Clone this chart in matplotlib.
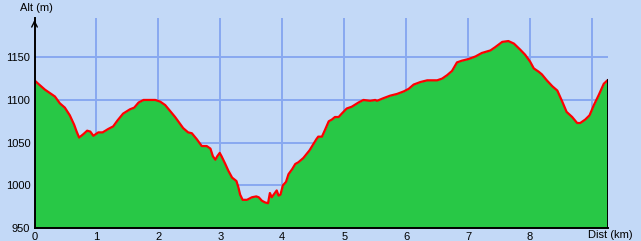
import matplotlib.pyplot as plt

# perfil: distancia (km) y altitud (m)
dist = [0.00, 0.06, 0.17, 0.25, 0.33, 0.41, 0.49, 0.57, 0.64, 0.68, 0.72, 0.79, 0.85, 0.90, 0.95,
        1.03, 1.10, 1.19, 1.27, 1.34, 1.43, 1.54, 1.61, 1.68, 1.76, 1.89, 1.95, 2.03, 2.11, 2.19,
        2.27, 2.34, 2.40, 2.48, 2.54, 2.62, 2.70, 2.78, 2.84, 2.88, 2.92, 2.95, 2.99, 3.02, 3.08,
        3.13, 3.19, 3.26, 3.29, 3.32, 3.36, 3.43, 3.51, 3.58, 3.62, 3.67, 3.72, 3.77, 3.80, 3.83,
        3.86, 3.91, 3.94, 3.97, 4.01, 4.06, 4.10, 4.16, 4.21, 4.26, 4.34, 4.44, 4.55, 4.58, 4.64,
        4.69, 4.75, 4.80, 4.85, 4.91, 4.96, 5.04, 5.12, 5.23, 5.31, 5.42, 5.50, 5.53, 5.63, 5.74,
        5.85, 5.96, 6.04, 6.12, 6.23, 6.34, 6.50, 6.58, 6.66, 6.74, 6.82, 6.90, 7.01, 7.12, 7.22,
        7.36, 7.44, 7.55, 7.65, 7.74, 7.84, 7.92, 8.00, 8.06, 8.14, 8.19, 8.27, 8.36, 8.44, 8.52,
        8.59, 8.68, 8.76, 8.81, 8.89, 8.96, 9.03, 9.11, 9.19, 9.25]
alt = [1123, 1119, 1112, 1108, 1104, 1096, 1091, 1082, 1071, 1063, 1056, 1060, 1064, 1063, 1058,
       1062, 1062, 1066, 1069, 1076, 1084, 1089, 1091, 1097, 1100, 1100, 1100, 1098, 1094, 1087,
       1080, 1073, 1067, 1062, 1061, 1054, 1046, 1046, 1043, 1034, 1030, 1034, 1038, 1034, 1025,
       1017, 1009, 1005, 998, 989, 983, 983, 986, 987, 986, 982, 980, 979, 991, 986,
       989, 994, 988, 989, 1000, 1004, 1013, 1019, 1025, 1027, 1032, 1041, 1054, 1057, 1057,
       1065, 1075, 1077, 1080, 1080, 1084, 1090, 1092, 1097, 1100, 1099, 1100, 1099, 1102, 1105,
       1107, 1110, 1113, 1118, 1121, 1123, 1123, 1125, 1129, 1134, 1144, 1146, 1148, 1151, 1155,
       1158, 1162, 1168, 1169, 1166, 1159, 1153, 1145, 1137, 1133, 1130, 1123, 1116, 1111, 1098,
       1086, 1080, 1073, 1073, 1077, 1082, 1094, 1106, 1119, 1123]

xticks = [0, 1, 2, 3, 4, 5, 6, 7, 8]
yticks = [950, 1000, 1050, 1100, 1150]

fondo = '#C3D9F7'
rejilla = '#88A8F0'

plt.rcParams['font.family'] = ['Liberation Sans', 'DejaVu Sans']

fig = plt.figure(figsize=(6.41, 2.41), dpi=100, facecolor=fondo)
ax = fig.add_axes([34.5 / 641, 13 / 241, 573 / 641, 210 / 241], facecolor=fondo)

ax.set_xlim(0, dist[-1])
ax.set_ylim(950, 1196)

# rejilla
for k in range(1, 10):
    ax.axvline(k, color=rejilla, lw=1.4, zorder=1)
for a in [1000, 1050, 1100, 1150]:
    ax.axhline(a, color=rejilla, lw=1.4, zorder=1)

ax.fill_between(dist, 950, alt, color='#28C846', lw=0, zorder=2)
ax.plot(dist, alt, color='#FF0000', lw=1.6, zorder=3)
ax.plot([dist[-1], dist[-1]], [950, alt[-1]], color='black', lw=1.4, zorder=4)

for s in ['top', 'right']:
    ax.spines[s].set_visible(False)
for s in ['left', 'bottom']:
    ax.spines[s].set_linewidth(1.4)
    ax.spines[s].set_zorder(5)

ax.set_xticks(xticks)
ax.set_yticks(yticks)
ax.tick_params(length=0, labelsize=8, pad=3)

ax.annotate('', xy=(0, 1197), xytext=(0, 1185), xycoords='data',
            arrowprops=dict(arrowstyle='->', color='black', lw=1), annotation_clip=False)
fig.text(20 / 641, 1 - 8 / 241, 'Alt (m)', fontsize=8, va='center', ha='left')
fig.text(588 / 641, 1 / 241, 'Dist (km)', fontsize=8, va='bottom', ha='left')

plt.savefig('out.png', dpi=100, facecolor=fondo)
